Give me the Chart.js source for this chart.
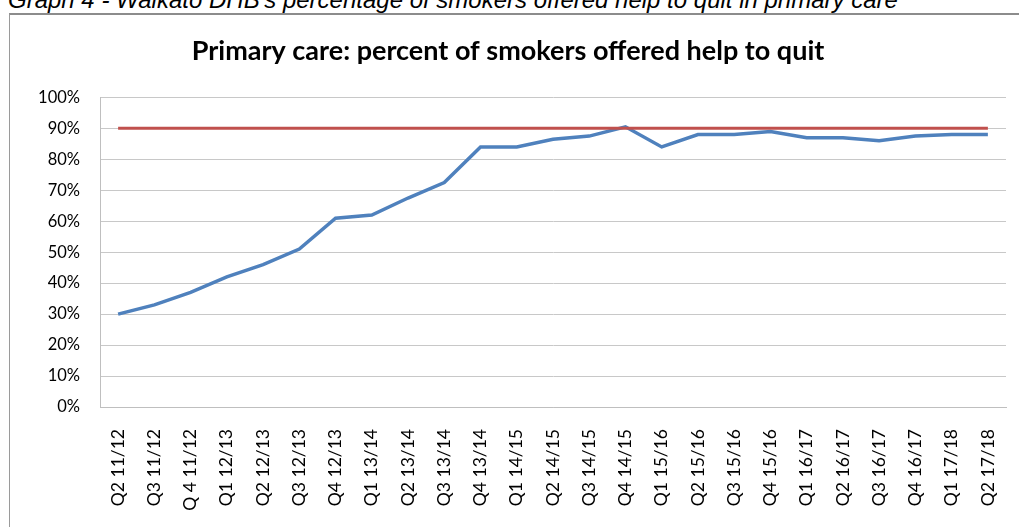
<!DOCTYPE html>
<html>

<head>
  <title>Primary care: percent of smokers offered help to quit</title>
  <script src="https://cdn.jsdelivr.net/npm/chart.js"></script>
  <style>
    body { margin: 0; background: #fff; }
    #wrap { position: relative; width: 1019px; height: 527px; overflow: hidden; }
    #caption { position: absolute; left: 8px; top: -12px; font: italic 24px "Liberation Sans", Arial, sans-serif; line-height: 24px; color: #000; white-space: nowrap; }
    #frame { position: absolute; left: 9px; top: 13px; width: 1030px; height: 530px; border-top: 2px solid #8c8c8c; border-left: 1px solid #9a9a9a; }
    #myChart { position: absolute; left: 0; top: 0; }
  </style>
</head>

<body>
  <div id="wrap">
    <div id="caption">Graph 4 - Waikato DHB's percentage of smokers offered help to quit in primary care</div>
    <div id="frame"></div>
    <canvas id="myChart" width="1019" height="527"></canvas>
  </div>
  <script>
    var quarters = ['Q2 11/12', 'Q3 11/12', 'Q 4 11/12', 'Q1 12/13', 'Q2 12/13', 'Q3 12/13', 'Q4 12/13',
      'Q1 13/14', 'Q2 13/14', 'Q3 13/14', 'Q4 13/14', 'Q1 14/15', 'Q2 14/15', 'Q3 14/15', 'Q4 14/15',
      'Q1 15/16', 'Q2 15/16', 'Q3 15/16', 'Q4 15/16', 'Q1 16/17', 'Q2 16/17', 'Q3 16/17', 'Q4 16/17',
      'Q1 17/18', 'Q2 17/18'];
    var offeredHelp = [30, 33, 37, 42, 46, 51, 61, 62, 67.5, 72.5, 84, 84, 86.5, 87.5, 90.5,
      84, 88, 88, 89, 87, 87, 86, 87.5, 88, 88];
    var target = quarters.map(function () { return 90; });
    var yTicks = [0, 10, 20, 30, 40, 50, 60, 70, 80, 90, 100];

    var font = '"Lato", "Open Sans", sans-serif';
    var ctx = document.getElementById('myChart').getContext('2d');
    var myChart = new Chart(ctx, {
      type: 'line',
      data: {
        labels: quarters,
        datasets: [{
          label: 'Target',
          data: target,
          borderColor: '#c0504d',
          borderWidth: 3,
          pointRadius: 0,
          tension: 0
        }, {
          label: 'Offered help',
          data: offeredHelp,
          borderColor: '#4f81bd',
          borderWidth: 3.5,
          pointRadius: 0,
          tension: 0
        }]
      },
      options: {
        responsive: false,
        animation: false,
        layout: { padding: { left: 10, right: 13, top: 0, bottom: 0 } },
        plugins: {
          legend: { display: false },
          tooltip: { enabled: false },
          title: {
            display: true,
            text: 'Primary care: percent of smokers offered help to quit',
            color: '#000',
            font: { family: font, size: 27, weight: 'bold', lineHeight: 1.2 },
            padding: { top: 35, bottom: 30 }
          }
        },
        scales: {
          x: {
            offset: true,
            grid: { display: false },
            border: { display: true, color: '#bfbfbf', width: 1 },
            ticks: {
              color: '#000',
              font: { family: font, size: 17.5 },
              minRotation: 90,
              maxRotation: 90,
              autoSkip: false,
              padding: 14
            },
            afterFit: function (scale) {
              scale.height = 120;
              scale.paddingLeft = 0;
              scale.paddingRight = 0;
            }
          },
          y: {
            min: 0,
            max: 100,
            afterBuildTicks: function (scale) {
              scale.ticks = yTicks.map(function (v) { return { value: v }; });
            },
            grid: { color: '#c8c8c8', lineWidth: 1, drawTicks: false },
            border: { display: true, color: '#bfbfbf', width: 1 },
            ticks: {
              color: '#000',
              font: { family: font, size: 16.5 },
              padding: 20,
              callback: function (v) { return v + '%'; }
            },
            afterFit: function (scale) { scale.width = 90; }
          }
        }
      }
    });
  </script>
</body>

</html>
